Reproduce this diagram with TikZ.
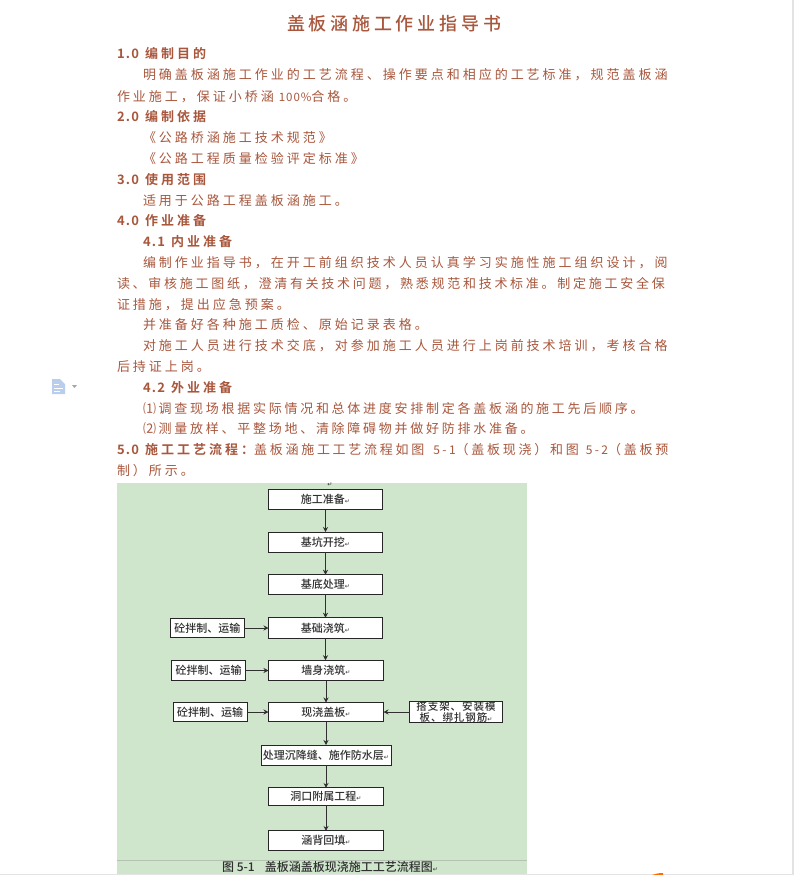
\documentclass[tikz,border=0pt]{standalone}
\usepackage{fontspec}
\usetikzlibrary{arrows.meta}
\setmainfont{Noto Sans CJK SC}
\newfontfamily\bodyf[LetterSpace=23]{Noto Sans CJK SC}
\newfontfamily\tightf[LetterSpace=21]{Noto Sans CJK SC}
\newfontfamily\headf[LetterSpace=23]{Noto Sans CJK SC Bold}
\newfontfamily\headnumf[LetterSpace=10]{Noto Sans CJK SC Bold}
\newfontfamily\latf[LetterSpace=8]{Noto Sans CJK SC}
\newfontfamily\latwf[LetterSpace=20]{Noto Sans CJK SC}
\newfontfamily\titlef[LetterSpace=21]{Noto Sans CJK SC Medium}
\newfontfamily\flowf{Noto Sans CJK SC Medium}
\newfontfamily\flowwf[LetterSpace=9]{Noto Sans CJK SC Medium}
\newfontfamily\markf{DejaVu Sans}
\definecolor{ink}{HTML}{A9573C}
\definecolor{sheet}{HTML}{CFE6CC}
\definecolor{flowink}{HTML}{303030}
\definecolor{iconblue}{HTML}{B8CEEC}
\newcommand{\pilcrow}{{\markf\fontsize{6}{6}\selectfont ↵}}
\newcommand{\hnum}[1]{{\headnumf #1}\hspace{6pt}}
\newcommand{\lat}[1]{{\latf\fontsize{11.5}{11.5}\selectfont #1}}
\newcommand{\latw}[1]{{\latwf\fontsize{12}{12}\selectfont #1}}
\tikzset{
  every node/.style={inner sep=0pt,outer sep=0pt},
  body/.style={anchor=base west,text=ink,font=\bodyf\fontsize{13}{13}\selectfont},
  tightbody/.style={anchor=base west,text=ink,font=\tightf\fontsize{13}{13}\selectfont},
  head/.style={anchor=base west,text=ink,font=\headf\fontsize{13}{13}\selectfont},
  doctitle/.style={anchor=base west,text=ink,font=\titlef\fontsize{18}{18}\selectfont},
  flowbox/.style={draw=black!85,line width=1pt,fill=white,text=flowink,align=center,
    font=\flowf\fontsize{11}{11}\selectfont},
  flowarrow/.style={draw=flowink,line width=1pt,-{Stealth[length=5pt,width=5pt]}},
}
\begin{document}
\begin{tikzpicture}[x=1pt,y=-1pt]
\useasboundingbox (0,0) rectangle (794,875);
\fill[white] (0,0) rectangle (794,875);
\fill[gray!22] (792,0) rectangle (794,875);
\fill[gray!22] (0,874) rectangle (794,875);
% margin icon
\fill[iconblue] (52,379) -- (60,379) -- (65,384) -- (65,394) -- (52,394) -- cycle;
\draw[white,line width=0.9pt] (54,384) -- (59,384) (54,388) -- (63,388) (54,391) -- (60,391);
\fill[gray!70] (72,385) -- (77,385) -- (74.5,388) -- cycle;
% text
\node[doctitle] (t0) at (287,31) {盖板涵施工作业指导书};
\node[head] (l1) at (117,59) {\hnum{1.0}编制目的};
\node[body] (l2) at (143,80) {明确盖板涵施工作业的工艺流程、操作要点和相应的工艺标准，规范盖板涵};
\node[body] (l3) at (117,101) {作业施工，保证小桥涵\hspace{5pt}\lat{100\%}合格。};
\node[head] (l4) at (117,121) {\hnum{2.0}编制依据};
\node[body] (l5) at (143,142) {《公路桥涵施工技术规范》};
\node[body] (l6) at (143,163) {《公路工程质量检验评定标准》};
\node[head] (l7) at (117,184) {\hnum{3.0}使用范围};
\node[body] (l8) at (143,205) {适用于公路工程盖板涵施工。};
\node[head] (l9) at (117,225) {\hnum{4.0}作业准备};
\node[head] (l10) at (143,246) {\hnum{4.1}内业准备};
\node[body] (l11) at (143,267) {编制作业指导书，在开工前组织技术人员认真学习实施性施工组织设计，阅};
\node[tightbody] (l12) at (117,288) {读、审核施工图纸，澄清有关技术问题，熟悉规范和技术标准。制定施工安全保};
\node[body] (l13) at (117,309) {证措施，提出应急预案。};
\node[body] (l14) at (143,329) {并准备好各种施工质检、原始记录表格。};
\node[body] (l15) at (143,350) {对施工人员进行技术交底，对参加施工人员进行上岗前技术培训，考核合格};
\node[body] (l16) at (117,371) {后持证上岗。};
\node[head] (l17) at (143,392) {\hnum{4.2}外业准备};
\node[tightbody] (l18) at (143,413) {⑴调查现场根据实际情况和总体进度安排制定各盖板涵的施工先后顺序。};
\node[tightbody] (l19) at (143,433) {⑵测量放样、平整场地、清除障碍物并做好防排水准备。};
\node[tightbody] (l20) at (117,454) {{\headnumf 5.0}\hspace{6pt}{\headf 施工工艺流程：}盖板涵施工工艺流程如图\hspace{9pt}\latw{5-1}（盖板现浇）和图\hspace{7pt}\latw{5-2}（盖板预};
\node[body] (l21) at (117,475) {制）所示。};
% figure sheet
\fill[sheet] (117,483) rectangle (527,874);
\draw[gray!35!sheet,line width=0.5pt] (117,860) -- (527,860);
\node[text=flowink] (topmark) at (330,485) {\pilcrow};
% flow boxes
\newcommand{\flownode}[6]{\node[flowbox,minimum width=#4pt,minimum height=#5pt] (#1) at (#2,#3) {#6};}
\flownode{s1}{325.5}{499.5}{114}{20}{施工准备\pilcrow}
\flownode{s2}{325.5}{542}{114}{20}{基坑开挖\pilcrow}
\flownode{s3}{325.5}{584.5}{114}{19.5}{基底处理\pilcrow}
\flownode{s4}{325.5}{628}{114}{20.5}{基础浇筑\pilcrow}
\flownode{s5}{326}{670.5}{115}{20.5}{墙身浇筑\pilcrow}
\flownode{s6}{326}{712}{115}{19}{现浇盖板\pilcrow}
\flownode{s7}{326}{755}{130}{20}{处理沉降缝、施作防水层\pilcrow}
\flownode{s8}{326}{796.7}{115}{17.5}{洞口附属工程\pilcrow}
\flownode{s9}{326}{840.7}{115}{19.5}{涵背回填\pilcrow}
\flownode{m1}{207.3}{628}{73.5}{19.5}{砼拌制、运输}
\flownode{m2}{208.7}{670.5}{73.5}{20}{砼拌制、运输}
\flownode{m3}{210}{712}{74}{19}{砼拌制、运输}
\node[flowbox,minimum width=93pt,minimum height=19pt,font=\flowwf\fontsize{10.5}{9.5}\selectfont] (r1) at (456,712) {搭支架、安装模\\板、绑扎钢筋\pilcrow};
\node[text=flowink,font=\flowf\fontsize{12}{12}\selectfont] (cap) at (330,867) {图 5-1\hspace{10pt}盖板涵盖板现浇施工工艺流程图\pilcrow};
% connectors
\foreach \a/\b in {s1/s2,s2/s3,s3/s4,s4/s5,s5/s6,s6/s7,s7/s8,s8/s9}
  \draw[flowarrow] (\a.south) -- (\a.south |- \b.north);
\draw[flowarrow] (m1) -- (s4);
\draw[flowarrow] (m2) -- (s5);
\draw[flowarrow] (m3) -- (s6);
\draw[flowarrow] (r1) -- (s6);
% stray orange mark at the bottom edge
\fill[orange!85!red] (652,875) .. controls (655,874) and (658,873) .. (663,873) -- (663,875) -- cycle;
\end{tikzpicture}
\end{document}
